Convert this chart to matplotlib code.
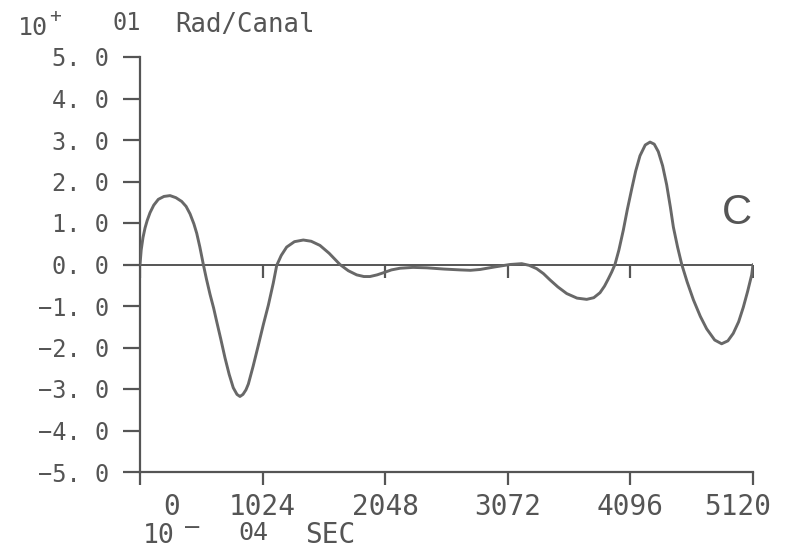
import matplotlib
matplotlib.use("Agg")
import matplotlib.pyplot as plt
import matplotlib.transforms as mtransforms

# ---- data ----
time = [0, 10, 25, 42, 60, 84, 115, 153, 200, 251, 300, 348, 385, 418, 450,
        474, 500, 529, 555, 585, 615, 641, 675, 710, 745, 779, 810, 835, 860,
        885, 905, 945, 988, 1030, 1072, 1113, 1142, 1180, 1225, 1290, 1364,
        1430, 1503, 1580, 1670, 1740, 1810, 1870, 1921, 1980, 2032, 2100, 2172,
        2280, 2395, 2540, 2673, 2760, 2840, 2960, 3090, 3188, 3250, 3313, 3370,
        3424, 3490, 3564, 3650, 3731, 3790, 3842, 3880, 3911, 3940, 3967, 4000,
        4037, 4070, 4107, 4140, 4176, 4220, 4260, 4295, 4329, 4365, 4399, 4430,
        4455, 4490, 4525, 4570, 4622, 4680, 4733, 4800, 4858, 4910, 4955, 5000,
        5039, 5075, 5109, 5120]
amplitude = [0.0, 0.35, 0.65, 0.88, 1.06, 1.25, 1.43, 1.57, 1.64, 1.66, 1.61,
             1.52, 1.40, 1.22, 0.98, 0.75, 0.42, 0.0, -0.35, -0.72, -1.05,
             -1.38, -1.80, -2.25, -2.65, -2.97, -3.13, -3.18, -3.13, -3.02,
             -2.88, -2.45, -1.95, -1.45, -0.98, -0.45, -0.02, 0.22, 0.42, 0.55,
             0.59, 0.56, 0.46, 0.27, 0.0, -0.15, -0.25, -0.29, -0.29, -0.25,
             -0.20, -0.13, -0.09, -0.07, -0.08, -0.11, -0.13, -0.14, -0.12,
             -0.06, 0.0, 0.02, -0.02, -0.10, -0.22, -0.37, -0.54, -0.70, -0.81,
             -0.84, -0.80, -0.68, -0.52, -0.35, -0.18, 0.0, 0.35, 0.83, 1.32,
             1.82, 2.25, 2.62, 2.88, 2.95, 2.90, 2.72, 2.38, 1.92, 1.38, 0.90,
             0.42, 0.0, -0.42, -0.85, -1.25, -1.55, -1.82, -1.91, -1.84, -1.66,
             -1.38, -1.03, -0.65, -0.25, 0.0]

xticks = [0, 1024, 2048, 3072, 4096, 5120]
xtick_labels = ["0", "1024", "2048", "3072", "4096", "5120"]
yticks = [5, 4, 3, 2, 1, 0, -1, -2, -3, -4, -5]
ytick_labels = ["5. 0", "4. 0", "3. 0", "2. 0", "1. 0", "0. 0",
                "\u22121. 0", "\u22122. 0", "\u22123. 0", "\u22124. 0", "\u22125. 0"]

ink = "#555555"
mono = ["DejaVu Sans Mono"]

W, H = 801, 548
fig = plt.figure(figsize=(W / 100, H / 100), dpi=100)
fig.patch.set_facecolor("white")
ax = fig.add_axes([140 / W, 1 - 472 / H, (753 - 140) / W, (472 - 57) / H])
ax.set_xlim(0, 5120)
ax.set_ylim(-5, 5)

for s in ["top", "right"]:
    ax.spines[s].set_visible(False)
for s in ["left", "bottom"]:
    ax.spines[s].set_color(ink)
    ax.spines[s].set_linewidth(1.6)

ax.set_xticks(xticks)
ax.set_xticklabels(xtick_labels, fontfamily=mono, fontsize=20, color=ink)
ax.set_yticks(yticks)
ax.set_yticklabels(ytick_labels, fontfamily=mono, fontsize=17, color=ink)
ax.tick_params(axis="y", direction="out", length=12, width=1.6, color=ink, pad=10)
ax.tick_params(axis="x", direction="out", length=9, width=1.6, color=ink, pad=6)

# plotter-like offsets of the first and last x labels
shifts = {0: 32, 5: -15}
for i, lbl in enumerate(ax.get_xticklabels()):
    if i in shifts:
        lbl.set_transform(lbl.get_transform() +
                          mtransforms.ScaledTranslation(shifts[i] / 100, 0,
                                                        fig.dpi_scale_trans))

# zero line with small hanging ticks
ax.axhline(0, color=ink, linewidth=1.4, zorder=2)
ax.plot(xticks, [0] * len(xticks), linestyle="none", marker=3, markersize=9,
        markeredgewidth=1.6, color=ink, zorder=2)

# the signal
ax.plot(time, amplitude, color="#686868", linewidth=2.1, zorder=3,
        solid_joinstyle="round", solid_capstyle="round")

# panel letter
ax.text(0.974, 0.623, "C", transform=ax.transAxes, fontsize=30, color=ink,
        family="Liberation Sans", ha="center", va="center")

# header (y-axis units)
fig.text(18 / W, 1 - 35 / H, "10", fontfamily=mono, fontsize=18, color=ink)
fig.text(49 / W, 1 - 22 / H, "+", fontfamily=mono, fontsize=14, color=ink)
fig.text(112 / W, 1 - 30 / H, "01", fontfamily=mono, fontsize=17, color=ink)
fig.text(175 / W, 1 - 32 / H, "Rad/Canal", fontfamily=mono,
         fontsize=18.5, color=ink)

# x-axis units
fig.text(143 / W, 1 - 543 / H, "10", fontfamily=mono, fontsize=19, color=ink)
fig.text(192 / W, 1 - 527 / H, "\u2012", fontfamily=mono, fontsize=17,
         color=ink, ha="center", va="center")
fig.text(238 / W, 1 - 540 / H, "04", fontfamily=mono, fontsize=18, color=ink)
fig.text(305 / W, 1 - 543 / H, "SEC", fontfamily=mono, fontsize=20, color=ink)

fig.savefig("out.png", dpi=100, facecolor="white")
